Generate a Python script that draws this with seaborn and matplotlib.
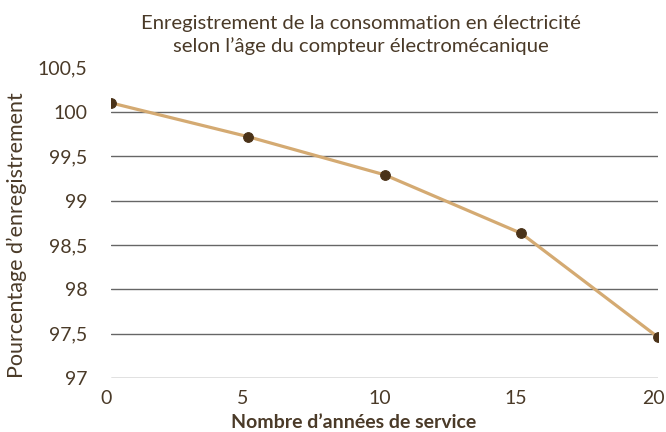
import matplotlib
matplotlib.use('Agg')
import matplotlib.pyplot as plt
import matplotlib.transforms as mtransforms
import seaborn as sns
import pandas as pd

# values
years = [0, 5, 10, 15, 20]
pct = [100.10, 99.72, 99.29, 98.63, 97.46]
yticks = [97, 97.5, 98, 98.5, 99, 99.5, 100, 100.5]

title = "Enregistrement de la consommation en électricité\nselon l\u2019âge du compteur électromécanique"
xlabel = "Nombre d\u2019années de service"
ylabel = "Pourcentage d\u2019enregistrement"

sns.set_style('white')
plt.rcParams['font.family'] = ['Lato', 'DejaVu Sans']
txt = '#4a3a28'

df = pd.DataFrame({'annees': years, 'pct': pct})

fig = plt.figure(figsize=(6.66, 4.32), dpi=100)
ax = fig.add_axes([0.1667, 0.125, 0.8213, 0.719])

sns.lineplot(data=df, x='annees', y='pct', ax=ax, color='#d4aa72', linewidth=2.3,
             marker='o', markersize=7, markerfacecolor='#4a3218', markeredgecolor='#4a3218',
             zorder=3)

ax.set_xlim(0, 20)
ax.set_ylim(97, 100.5)
ax.set_xticks(years)
ax.set_yticks(yticks)
ax.set_yticklabels([('%g' % v).replace('.', ',') for v in yticks])
ax.grid(axis='y', color='#666666', linewidth=1)
ax.yaxis.get_gridlines()[-1].set_visible(False)
ax.set_axisbelow(True)
for s in ax.spines.values():
    s.set_visible(False)
ax.tick_params(axis='both', length=0, labelsize=14, colors=txt)
ax.tick_params(axis='x', pad=9)
ax.tick_params(axis='y', pad=17)

# tick labels sit a little left of the points in the reference
shift = mtransforms.ScaledTranslation(-5 / 100, 0, fig.dpi_scale_trans)
for lab in ax.get_xticklabels():
    lab.set_transform(lab.get_transform() + shift)

ax.set_xlabel(xlabel, fontsize=14, fontweight='bold', color=txt)
ax.xaxis.set_label_coords(0.444, -0.115)
ax.set_ylabel(ylabel, fontsize=15.5, color=txt)
ax.yaxis.set_label_coords(-0.153, 0.46)
ax.text(0.457, 1.104, title, transform=ax.transAxes, ha='center', va='center',
        fontsize=14.6, color=txt, linespacing=1.36)

fig.savefig('out.png', dpi=100)
